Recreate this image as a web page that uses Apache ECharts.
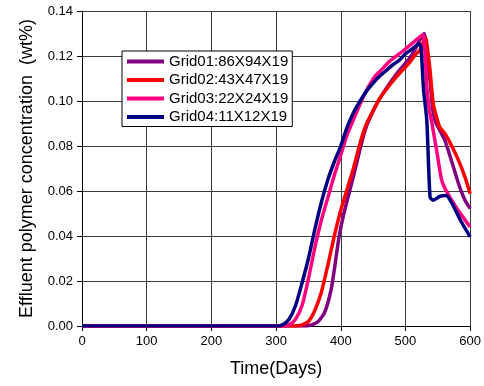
<!DOCTYPE html>
<html>
<head>
<meta charset="utf-8">
<script src="https://cdn.jsdelivr.net/npm/echarts@6/dist/echarts.min.js"></script>
<style>
  html, body { margin: 0; padding: 0; background: #fff; }
  #chart { width: 484px; height: 386px; }
</style>
</head>
<body>
<div id="chart"></div>
<script>
// Effluent polymer concentration vs time, four grid resolutions
const seriesNames = ['Grid01:86X94X19', 'Grid02:43X47X19', 'Grid03:22X24X19', 'Grid04:11X12X19'];
const seriesColors = ['#800080', '#FF0000', '#FF0080', '#000080'];

const grid01Days = [0, 345, 355, 365, 375, 385, 390, 397, 404, 411, 420, 431, 440, 450, 460, 470, 481, 493, 505, 515, 522, 529, 533, 538, 542, 546, 553, 561, 571, 582, 592, 600];
const grid01Conc = [0, 0, 0.0005, 0.002, 0.006, 0.016, 0.025, 0.039, 0.049, 0.057, 0.067, 0.080, 0.089, 0.0955, 0.101, 0.1055, 0.110, 0.1145, 0.1185, 0.123, 0.127, 0.130, 0.121, 0.109, 0.097, 0.091, 0.087, 0.0825, 0.0736, 0.0633, 0.0559, 0.0522];

const grid02Days = [0, 330, 340, 350, 360, 370, 380, 390, 400, 410, 420, 430, 440, 450, 460, 470, 481, 493, 505, 515, 522, 531, 535, 538, 543, 548, 553, 561, 571, 582, 592, 600];
const grid02Conc = [0, 0, 0.0005, 0.002, 0.007, 0.015, 0.027, 0.040, 0.0515, 0.061, 0.0705, 0.0815, 0.090, 0.0957, 0.101, 0.105, 0.109, 0.113, 0.1166, 0.1205, 0.1225, 0.128, 0.121, 0.1136, 0.0988, 0.0929, 0.0884, 0.0855, 0.0803, 0.0736, 0.0662, 0.0588];

const grid03Days = [0, 310, 320, 330, 340, 350, 360, 370, 380, 390, 400, 410, 420, 432, 442, 453, 465, 475, 484, 495, 510, 520, 527, 530, 533, 537, 541, 549, 556, 564, 580, 600];
const grid03Conc = [0, 0, 0.0005, 0.003, 0.009, 0.021, 0.035, 0.047, 0.057, 0.067, 0.076, 0.085, 0.092, 0.100, 0.106, 0.111, 0.1145, 0.1175, 0.1196, 0.122, 0.1255, 0.128, 0.1295, 0.122, 0.106, 0.0959, 0.090, 0.0766, 0.0648, 0.0596, 0.052, 0.044];

const grid04Days = [0, 300, 310, 320, 330, 340, 350, 360, 370, 380, 390, 400, 410, 420, 430, 440, 450, 460, 470, 480, 490, 500, 510, 521, 524, 528, 533, 538, 543, 553, 563, 571, 585, 600];
const grid04Conc = [0, 0, 0.0005, 0.003, 0.009, 0.019, 0.030, 0.043, 0.055, 0.065, 0.073, 0.080, 0.0885, 0.095, 0.100, 0.1045, 0.108, 0.111, 0.1135, 0.116, 0.118, 0.121, 0.123, 0.1255, 0.124, 0.105, 0.0914, 0.0573, 0.0559, 0.0576, 0.058, 0.055, 0.047, 0.0396];

const xTicks = { min: 0, max: 600, interval: 100 };
const yTicks = { min: 0, max: 0.14, interval: 0.02 };

const allDays = [grid01Days, grid02Days, grid03Days, grid04Days];
const allConc = [grid01Conc, grid02Conc, grid03Conc, grid04Conc];

const font = '"Liberation Sans", Arial, sans-serif';
const gridColor = '#3a3a3a';

const series = seriesNames.map((name, i) => ({
  name: name,
  type: 'line',
  data: allDays[i].map((d, k) => [d, allConc[i][k]]),
  smooth: 0.2,
  symbol: 'none',
  lineStyle: { color: seriesColors[i], width: 3.5 },
  itemStyle: { color: seriesColors[i] },
  z: 2 + i
}));

const chart = echarts.init(document.getElementById('chart'), null, { renderer: 'canvas' });
chart.setOption({
  animation: false,
  backgroundColor: '#ffffff',
  grid: { left: 82, right: 12, top: 11, bottom: 60, containLabel: false },
  legend: {
    orient: 'vertical',
    left: 122,
    top: 51,
    data: seriesNames.map(n => ({ name: n, icon: 'rect' })),
    itemWidth: 37,
    itemHeight: 4,
    itemGap: 3.5,
    padding: [3, 4, 2, 5],
    backgroundColor: '#ffffff',
    borderColor: '#000000',
    borderWidth: 1,
    borderRadius: 0,
    textStyle: { fontFamily: font, fontSize: 15, color: '#000', lineHeight: 15 },
    z: 10
  },
  xAxis: {
    type: 'value',
    min: xTicks.min,
    max: xTicks.max,
    interval: xTicks.interval,
    name: 'Time(Days)',
    nameLocation: 'middle',
    nameGap: 34,
    nameTextStyle: { fontFamily: font, fontSize: 18, color: '#000' },
    axisLine: { show: true, onZero: false, lineStyle: { color: '#000', width: 1 } },
    axisTick: { show: true, inside: false, length: 5, lineStyle: { color: '#000' } },
    axisLabel: { margin: 9, fontFamily: font, fontSize: 13, color: '#000' },
    splitLine: { show: true, lineStyle: { color: gridColor, width: 1 } }
  },
  yAxis: {
    type: 'value',
    min: yTicks.min,
    max: yTicks.max,
    interval: yTicks.interval,
    name: 'Effluent polymer concentration  (wt%)',
    nameLocation: 'middle',
    nameGap: 46,
    nameTextStyle: { fontFamily: font, fontSize: 18, color: '#000' },
    axisLine: { show: true, onZero: false, lineStyle: { color: '#000', width: 1 } },
    axisTick: { show: true, inside: false, length: 5, lineStyle: { color: '#000' } },
    axisLabel: {
      margin: 9, fontFamily: font, fontSize: 13, color: '#000',
      formatter: v => v.toFixed(2)
    },
    splitLine: { show: true, lineStyle: { color: gridColor, width: 1 } }
  },
  series: series
});
</script>
</body>
</html>
